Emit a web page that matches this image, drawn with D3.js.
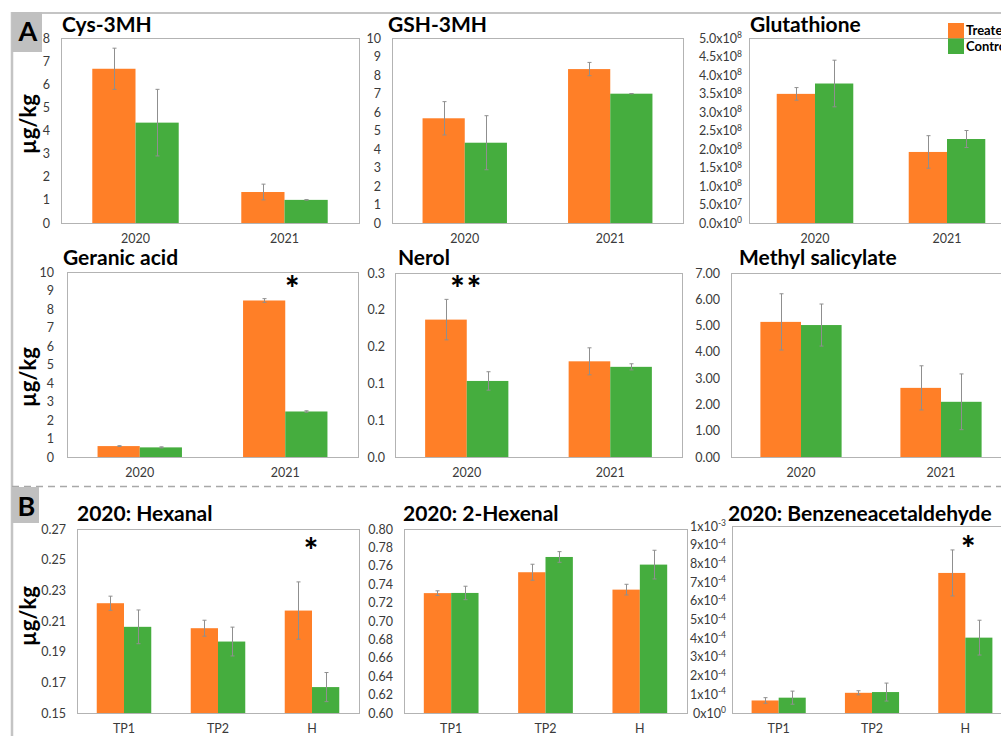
<!DOCTYPE html>
<html>
<head>
<meta charset="utf-8">
<script src="https://cdn.jsdelivr.net/npm/d3@7"></script>
<style>
  html, body { margin: 0; padding: 0; background: #fff; }
  svg { display: block; font-family: Lato, "Open Sans", sans-serif; }
</style>
</head>
<body>
<svg id="fig" width="1001" height="736"></svg>
<script>
// ---- categories ----
const years = ["2020", "2021"];
const stages = ["TP1", "TP2", "H"];
const seriesNames = ["Treated", "Control"];

// ---- A: grape compounds by vintage (µg/kg) ----
const cysTreated = [6.67, 1.34];
const cysControl = [4.34, 1.00];
const cysTreatedErr = [0.89, 0.34];
const cysControlErr = [1.44, 0.01];

const gshTreated = [5.66, 8.32];
const gshControl = [4.34, 6.99];
const gshTreatedErr = [0.90, 0.36];
const gshControlErr = [1.46, 0.01];

const glutTreated = [3.49e8, 1.92e8];
const glutControl = [3.77e8, 2.27e8];
const glutTreatedErr = [0.17e8, 0.44e8];
const glutControlErr = [0.63e8, 0.23e8];

const geranicTreated = [0.59, 8.46];
const geranicControl = [0.52, 2.46];
const geranicTreatedErr = [0.02, 0.10];
const geranicControlErr = [0.03, 0.04];
const geranicSig = ["", "*"];

const nerolTreated = [0.224, 0.156];
const nerolControl = [0.124, 0.147];
const nerolTreatedErr = [0.033, 0.022];
const nerolControlErr = [0.015, 0.005];
const nerolSig = ["**", ""];

const mesalTreated = [5.14, 2.63];
const mesalControl = [5.02, 2.10];
const mesalTreatedErr = [1.07, 0.84];
const mesalControlErr = [0.80, 1.06];

// ---- B: 2020 volatiles by sampling time (µg/kg) ----
const hexanalTreated = [0.2216, 0.2053, 0.2168];
const hexanalControl = [0.2062, 0.1966, 0.1669];
const hexanalTreatedErr = [0.0046, 0.0052, 0.0187];
const hexanalControlErr = [0.0110, 0.0094, 0.0095];
const hexanalSig = ["", "", "*"];

const hexenalTreated = [0.7303, 0.7530, 0.7341];
const hexenalControl = [0.7305, 0.7696, 0.7613];
const hexenalTreatedErr = [0.0025, 0.0087, 0.0058];
const hexenalControlErr = [0.0073, 0.0058, 0.0156];

const benzTreated = [0.67e-4, 1.08e-4, 7.49e-4];
const benzControl = [0.82e-4, 1.12e-4, 4.03e-4];
const benzTreatedErr = [0.15e-4, 0.11e-4, 1.23e-4];
const benzControlErr = [0.35e-4, 0.48e-4, 0.93e-4];
const benzSig = ["", "", "*"];

// ---- axis ticks ----
const cysTicks = [0, 1, 2, 3, 4, 5, 6, 7, 8];
const gshTicks = [0, 1, 2, 3, 4, 5, 6, 7, 8, 9, 10];
const glutTicks = [0, 0.5e8, 1e8, 1.5e8, 2e8, 2.5e8, 3e8, 3.5e8, 4e8, 4.5e8, 5e8];
const geranicTicks = [0, 1, 2, 3, 4, 5, 6, 7, 8, 9, 10];
const nerolTicks = [0, 0.06, 0.12, 0.18, 0.24, 0.30];
const mesalTicks = [0, 1, 2, 3, 4, 5, 6, 7];
const hexanalTicks = [0.15, 0.17, 0.19, 0.21, 0.23, 0.25, 0.27];
const hexenalTicks = [0.60, 0.62, 0.64, 0.66, 0.68, 0.70, 0.72, 0.74, 0.76, 0.78, 0.80];
const benzTicks = [0, 1e-4, 2e-4, 3e-4, 4e-4, 5e-4, 6e-4, 7e-4, 8e-4, 9e-4, 1e-3];

const colors = { Treated: "#FF7F27", Control: "#45AD3E" };
const TICK_FONT = 12.5;

// scientific label pieces: mantissa text and exponent
function sciParts(v, decimals) {
  if (v === 0) return [(0).toFixed(decimals), "0"];
  const e = Math.floor(Math.log10(Math.abs(v)) + 1e-9);
  const m = v / Math.pow(10, e);
  return [m.toFixed(decimals), String(e)];
}

const panels = [
  { title: "Cys-3MH", cats: years, t: cysTreated, c: cysControl, te: cysTreatedErr, ce: cysControlErr,
    ticks: cysTicks, fmt: d3.format("d"), box: [61, 38, 359, 223], titleX: 62, titleY: 32, tickPad: 11 },
  { title: "GSH-3MH", cats: years, t: gshTreated, c: gshControl, te: gshTreatedErr, ce: gshControlErr,
    ticks: gshTicks, fmt: d3.format("d"), box: [392, 38, 683, 223], titleX: 388, titleY: 32, tickPad: 11 },
  { title: "Glutathione", cats: years, t: glutTreated, c: glutControl, te: glutTreatedErr, ce: glutControlErr,
    ticks: glutTicks, sci: 1, box: [749, 38, 1013, 223], titleX: 750, titleY: 32, tickPad: 7 },
  { title: "Geranic acid", cats: years, t: geranicTreated, c: geranicControl, te: geranicTreatedErr, ce: geranicControlErr,
    sig: geranicSig, sigDx: 8, sigY: 14,
    ticks: geranicTicks, fmt: d3.format("d"), box: [67, 272, 358, 457], titleX: 63, titleY: 265, tickPad: 13 },
  { title: "Nerol", cats: years, t: nerolTreated, c: nerolControl, te: nerolTreatedErr, ce: nerolControlErr,
    sig: nerolSig, sigDx: 0, sigY: 13,
    ticks: nerolTicks, fmt: d3.format(".1f"), box: [395, 273, 682, 457], titleX: 398, titleY: 265, tickPad: 10 },
  { title: "Methyl salicylate", cats: years, t: mesalTreated, c: mesalControl, te: mesalTreatedErr, ce: mesalControlErr,
    ticks: mesalTicks, fmt: d3.format(".2f"), box: [731, 273, 1011, 457], titleX: 739, titleY: 265, tickPad: 11 },
  { title: "2020: Hexanal", cats: stages, t: hexanalTreated, c: hexanalControl, te: hexanalTreatedErr, ce: hexanalControlErr,
    sig: hexanalSig, sigDx: 0, sigY: 19,
    ticks: hexanalTicks, fmt: d3.format(".2f"), box: [77, 529, 359, 713], titleX: 77, titleY: 521, tickPad: 11 },
  { title: "2020: 2-Hexenal", cats: stages, t: hexenalTreated, c: hexenalControl, te: hexenalTreatedErr, ce: hexenalControlErr,
    ticks: hexenalTicks, fmt: d3.format(".2f"), box: [404, 529, 687, 713], titleX: 403, titleY: 521, tickPad: 11 },
  { title: "2020: Benzeneacetaldehyde", cats: stages, t: benzTreated, c: benzControl, te: benzTreatedErr, ce: benzControlErr,
    sig: benzSig, sigDx: 4, sigY: 20,
    ticks: benzTicks, sci: 0, box: [732, 526, 1012, 713], titleX: 728, titleY: 521, tickPad: 6 }
];

const svg = d3.select("#fig");

// outer frame and section divider
const frame = svg.append("g");
frame.append("line").attr("x1", 12).attr("x2", 1001).attr("y1", 13).attr("y2", 13)
  .attr("stroke", "#c4c4c4").attr("stroke-width", 2);
frame.append("line").attr("x1", 12).attr("x2", 12).attr("y1", 12).attr("y2", 736)
  .attr("stroke", "#c4c4c4").attr("stroke-width", 2.5);
frame.append("line").attr("x1", 12).attr("x2", 1001).attr("y1", 486.5).attr("y2", 486.5)
  .attr("stroke", "#a8a8a8").attr("stroke-width", 1.5).attr("stroke-dasharray", "7,5");

// section badges
[{ label: "A", x: 12, y: 12, w: 30, h: 40 }, { label: "B", x: 12, y: 487, w: 27, h: 36 }].forEach(b => {
  frame.append("rect").attr("x", b.x).attr("y", b.y).attr("width", b.w).attr("height", b.h).attr("fill", "#c0c0c0");
  frame.append("text").attr("x", b.x + b.w / 2 + 1).attr("y", b.y + 29)
    .attr("text-anchor", "middle").attr("font-size", 27).attr("font-weight", 700).attr("fill", "#000")
    .text(b.label);
});

// shared y-axis titles
[124, 377, 616].forEach(cy => {
  svg.append("text").attr("transform", `translate(36,${cy}) rotate(-90)`)
    .attr("text-anchor", "middle").attr("font-size", 22).attr("font-weight", 700).attr("fill", "#000")
    .text("µg/kg");
});

panels.forEach(p => {
  const [x0, y0, x1, y1] = p.box;
  const g = svg.append("g");
  const y = d3.scaleLinear().domain([p.ticks[0], p.ticks[p.ticks.length - 1]]).range([y1, y0]);
  const x = d3.scaleBand().domain(p.cats).range([x0, x1]).padding(0);
  const xs = d3.scaleBand().domain(seriesNames).range([0, x.bandwidth()]).paddingInner(0).paddingOuter(0.724);

  // plot area border
  g.append("rect").attr("x", x0 + 0.5).attr("y", y0 + 0.5).attr("width", x1 - x0).attr("height", y1 - y0)
    .attr("fill", "none").attr("stroke", "#b3b3b3").attr("stroke-width", 1);

  // y axis
  const yAxis = d3.axisLeft(y).tickValues(p.ticks).tickSize(0).tickPadding(p.tickPad);
  if (p.fmt) yAxis.tickFormat(p.fmt);
  const ya = g.append("g").attr("transform", `translate(${x0},0)`).call(yAxis);
  ya.select(".domain").remove();
  ya.selectAll("text").attr("font-size", TICK_FONT).attr("fill", "#3a3a3a").attr("font-family", "Lato, sans-serif");
  if (p.sci !== undefined) {
    ya.selectAll("text").each(function (v) {
      const [m, e] = sciParts(v, p.sci);
      const t = d3.select(this).text(null);
      t.append("tspan").text(m + "x10");
      t.append("tspan").attr("dy", -4.5).attr("font-size", 8.5).text(e);
    });
  }

  // x axis
  const xa = g.append("g").attr("transform", `translate(0,${y1})`)
    .call(d3.axisBottom(x).tickSize(0).tickPadding(11));
  xa.select(".domain").remove();
  xa.selectAll("text").attr("font-size", TICK_FONT).attr("fill", "#3a3a3a").attr("font-family", "Lato, sans-serif");

  // bars
  const rows = [];
  p.cats.forEach((cat, i) => {
    rows.push({ cat, s: "Treated", v: p.t[i], e: p.te[i] });
    rows.push({ cat, s: "Control", v: p.c[i], e: p.ce[i] });
  });
  const base = y.domain()[0];
  g.selectAll("rect.bar").data(rows).join("rect").attr("class", "bar")
    .attr("x", d => x(d.cat) + xs(d.s))
    .attr("width", xs.bandwidth())
    .attr("y", d => y(d.v))
    .attr("height", d => y(base) - y(d.v))
    .attr("fill", d => colors[d.s]);

  // error bars
  const eb = g.selectAll("g.err").data(rows.filter(d => d.e > 0)).join("g").attr("class", "err")
    .attr("stroke", "#8f8f8f").attr("stroke-width", 1);
  const cx = d => Math.round(x(d.cat) + xs(d.s) + xs.bandwidth() / 2) + 0.5;
  eb.append("line").attr("x1", cx).attr("x2", cx).attr("y1", d => y(d.v + d.e)).attr("y2", d => y(d.v - d.e));
  eb.append("line").attr("x1", d => cx(d) - 2).attr("x2", d => cx(d) + 2).attr("y1", d => y(d.v + d.e)).attr("y2", d => y(d.v + d.e));
  eb.append("line").attr("x1", d => cx(d) - 2).attr("x2", d => cx(d) + 2).attr("y1", d => y(d.v - d.e)).attr("y2", d => y(d.v - d.e));

  // significance marks
  if (p.sig) {
    g.selectAll("text.sig").data(p.cats.map((cat, i) => ({ cat, s: p.sig[i] })).filter(d => d.s)).join("text")
      .attr("class", "sig")
      .attr("x", d => x(d.cat) + x.bandwidth() / 2 + p.sigDx)
      .attr("y", y0 + p.sigY + 15)
      .attr("text-anchor", "middle").attr("font-size", 34).attr("font-weight", 900).attr("fill", "#000")
      .attr("letter-spacing", 2)
      .text(d => d.s);
  }

  // panel title
  svg.append("text").attr("x", p.titleX).attr("y", p.titleY)
    .attr("font-size", 21).attr("font-weight", 700).attr("fill", "#000").text(p.title);
});

// legend
const lg = svg.append("g");
seriesNames.forEach((s, i) => {
  lg.append("rect").attr("x", 948).attr("y", 23 + i * 15.5).attr("width", 16).attr("height", 15.5).attr("fill", colors[s]);
  lg.append("text").attr("x", 966).attr("y", 35 + i * 15.5).attr("font-size", 13).attr("font-weight", 700)
    .attr("fill", "#000").text(s);
});
</script>
</body>
</html>
